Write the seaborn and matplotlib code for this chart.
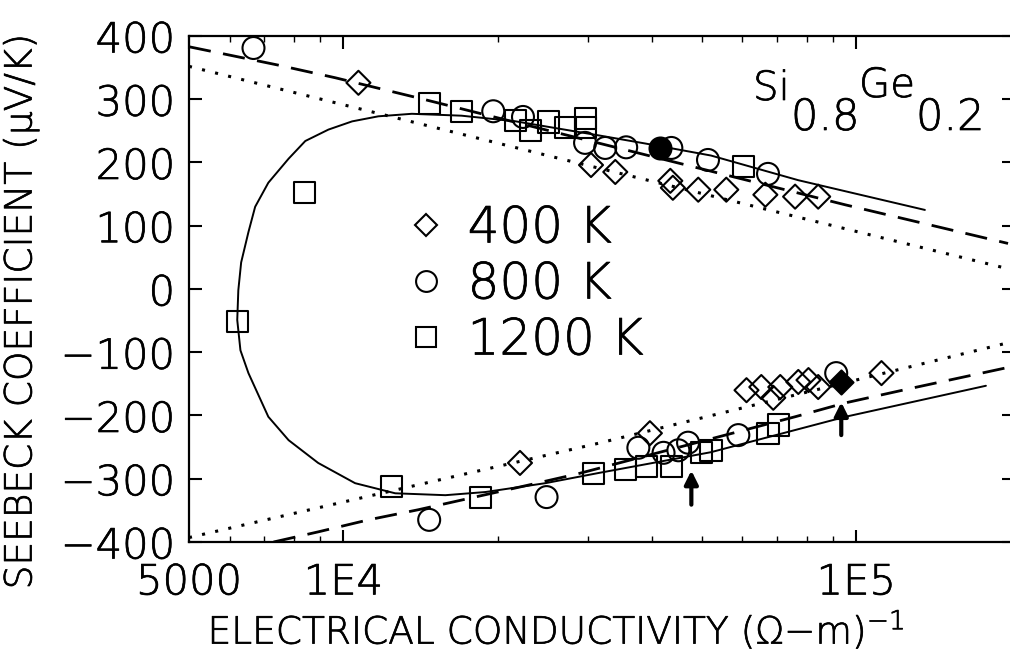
import matplotlib
matplotlib.use("Agg")
import matplotlib.pyplot as plt
import matplotlib.patheffects as pe
from matplotlib.text import Text
from matplotlib.lines import Line2D
from matplotlib.ticker import FixedLocator, FixedFormatter, LogLocator, NullFormatter
import seaborn as sns

# ---- measured data: Seebeck coefficient (uV/K) vs electrical conductivity (1/ohm-m) ----
# 400 K (diamonds)
d400_sigma = [10700, 30400, 33900, 43400, 43900, 49200, 55800, 66500, 76000, 84300,
              22100, 39600, 61100, 65300, 68900, 71100, 77100, 80700, 84300, 112000]
d400_S = [326, 196, 185, 171, 160, 157, 157, 149, 146, 146,
          -275, -228, -160, -155, -172, -155, -147, -144, -155, -133]
d400_filled_sigma = [93500]
d400_filled_S = [-147]

# 800 K (circles)
d800_sigma = [6680, 19600, 22400, 29600, 32400, 35600, 43600, 51400, 67300,
              14700, 24900, 37600, 42100, 45000, 47000, 58900, 91400]
d800_S = [381, 281, 272, 231, 223, 224, 223, 204, 182,
          -365, -329, -251, -259, -255, -243, -231, -133]
d800_filled_sigma = [41500]
d800_filled_S = [223]

# 1200 K (squares)
d1200_sigma = [8400, 6210, 14700, 17000, 21700, 23200, 25100, 27100, 29600, 29600, 60300,
               12400, 18500, 30700, 35500, 39000, 43600, 49900, 52100, 67300, 70500]
d1200_S = [153, -52, 294, 280, 267, 251, 264, 256, 270, 255, 193,
           -313, -330, -291, -286, -281, -281, -259, -255, -228, -215]

# ---- model curves ----
# 1200 K loop (solid)
loop_sigma = [136100, 77100, 52100, 38800, 31400, 21700, 17000, 13600, 11700, 10400,
              9350, 8430, 7820, 7140, 6730, 6530, 6320, 6240, 6210, 6300, 6530, 7140,
              7820, 8930, 10540, 12620, 15810, 18920, 24770, 31400, 52100, 95300, 179000]
loop_S = [125, 172, 211, 230, 243, 265, 274, 277, 273, 265,
          252, 234, 206, 168, 130, 90, 42, -2, -49, -97, -133, -202,
          -239, -275, -307, -323, -326, -321, -307, -291, -258, -202, -153]

# 800 K model (dashed), p- and n-type branches
dash_p_sigma = [5000, 7460, 9640, 14000, 95300, 197700]
dash_p_S = [383, 354, 334, 302, 133, 72]
dash_n_sigma = [7310, 8930, 11190, 14000, 22960, 28710, 76000, 95300, 128000, 197700]
dash_n_S = [-400, -384, -365, -349, -310, -292, -202, -180, -157, -124]

# 400 K model (dotted), p- and n-type branches
dot_p_sigma = [5000, 27100, 197700]
dot_p_S = [352, 204, 32]
dot_n_sigma = [5000, 31400, 197700]
dot_n_S = [-393, -244, -85]

# arrows marking selected samples (conductivity, tail S, head S)
arrow_sigma = [47700, 93500]
arrow_tail_S = [-341, -231]
arrow_head_S = [-287, -179]

x_ticks = [5000, 10000, 100000]
x_tick_labels = ["5000", "1E4", "1E5"]
y_ticks = [-400, -300, -200, -100, 0, 100, 200, 300, 400]

legend_labels = ["400 K", "800 K", "1200 K"]

# ---- style ----
sns.set_style("ticks")
plt.rcParams["font.family"] = ["DejaVu Sans"]
plt.rcParams["font.weight"] = 200
plt.rcParams["axes.labelweight"] = 200
plt.rcParams["text.color"] = "black"
plt.rcParams["axes.labelcolor"] = "black"
plt.rcParams["xtick.color"] = "black"
plt.rcParams["ytick.color"] = "black"
plt.rcParams["axes.edgecolor"] = "black"
plt.rcParams["axes.linewidth"] = 1.6
plt.rcParams["lines.solid_joinstyle"] = "round"

fig = plt.figure(figsize=(10.10, 6.58), dpi=100)
ax = fig.add_axes([0.1871, 0.1763, 0.8168, 0.7690])
ax.set_xscale("log")

line_kw = dict(ax=ax, color="black", sort=False, estimator=None, legend=False)
sns.lineplot(x=loop_sigma, y=loop_S, linewidth=1.4, linestyle="-", **line_kw)
for xs, ys in [(dash_p_sigma, dash_p_S), (dash_n_sigma, dash_n_S)]:
    sns.lineplot(x=xs, y=ys, linewidth=2.0, linestyle=(0, (8, 4.5)), **line_kw)
for xs, ys in [(dot_p_sigma, dot_p_S), (dot_n_sigma, dot_n_S)]:
    sns.lineplot(x=xs, y=ys, linewidth=2.2, linestyle=(0, (1, 3.4)), **line_kw)

open_kw = dict(ax=ax, facecolor="none", edgecolor="black", linewidth=1.5, zorder=3, legend=False)
sns.scatterplot(x=d400_sigma, y=d400_S, marker="D", s=150, **open_kw)
sns.scatterplot(x=d800_sigma, y=d800_S, marker="o", s=250, **open_kw)
sns.scatterplot(x=d1200_sigma, y=d1200_S, marker="s", s=230, **open_kw)

filled_kw = dict(ax=ax, facecolor="black", edgecolor="black", linewidth=1.5, zorder=4, legend=False)
sns.scatterplot(x=d400_filled_sigma, y=d400_filled_S, marker="D", s=150, **filled_kw)
sns.scatterplot(x=d800_filled_sigma, y=d800_filled_S, marker="o", s=250, **filled_kw)

for xa, yt, yh in zip(arrow_sigma, arrow_tail_S, arrow_head_S):
    ax.annotate("", xy=(xa, yh), xytext=(xa, yt),
                arrowprops=dict(arrowstyle="-|>", color="black", lw=3.0,
                                mutation_scale=20, shrinkA=0, shrinkB=0), zorder=5)

ax.set_xlim(5000, 203000)
ax.set_ylim(-400, 400)
ax.xaxis.set_major_locator(FixedLocator(x_ticks))
ax.xaxis.set_major_formatter(FixedFormatter(x_tick_labels))
ax.xaxis.set_minor_locator(LogLocator(base=10, subs=[2, 3, 4, 5, 6, 7, 8, 9], numticks=20))
ax.xaxis.set_minor_formatter(NullFormatter())
ax.yaxis.set_major_locator(FixedLocator(y_ticks))

ax.tick_params(which="major", direction="in", length=9, width=1.5,
               top=True, right=True, labelsize=30, colors="black")
ax.tick_params(axis="x", which="major", pad=14)
ax.tick_params(axis="y", which="major", pad=10)
ax.tick_params(which="minor", direction="in", length=4, width=1.0, top=True, right=True)

for sp in ax.spines.values():
    sp.set_visible(True)
    sp.set_color("black")

ax.set_ylabel("SEEBECK COEFFICIENT (\u03bcV/K)", fontsize=27, va="center")
ax.yaxis.set_label_coords(-0.203, 0.455)
ax.set_xlabel("ELECTRICAL CONDUCTIVITY (\u03a9\u2212m)$^{\\mathregular{\u22121}}$", fontsize=27, va="center")
ax.xaxis.set_label_coords(0.445, -0.174)

# composition label with lowered subscripts
comp_parts = [("Si", 753, 100, 29), ("0.8", 791, 130, 31), ("Ge", 859, 97, 29), ("0.2", 916, 130, 31)]
for txt, px, py, fs in comp_parts:
    fig.text(px / 1010, 1 - py / 658, txt, fontsize=fs, ha="left", va="baseline")

handles = [
    Line2D([], [], marker="D", linestyle="none", markerfacecolor="none",
           markeredgecolor="black", markeredgewidth=1.5, markersize=11),
    Line2D([], [], marker="o", linestyle="none", markerfacecolor="none",
           markeredgecolor="black", markeredgewidth=1.5, markersize=15),
    Line2D([], [], marker="s", linestyle="none", markerfacecolor="none",
           markeredgecolor="black", markeredgewidth=1.5, markersize=15),
]
ax.legend(handles, legend_labels, loc="upper left", bbox_to_anchor=(0.262, 0.667),
          frameon=False, fontsize=36, handlelength=0.85, handletextpad=0.4,
          labelspacing=0.16, borderpad=0, borderaxespad=0)

# slightly heavier strokes for the thin lettering
for t in fig.findobj(Text):
    t.set_path_effects([pe.withStroke(linewidth=0.5, foreground="black")])

fig.savefig("out.png", dpi=100)
